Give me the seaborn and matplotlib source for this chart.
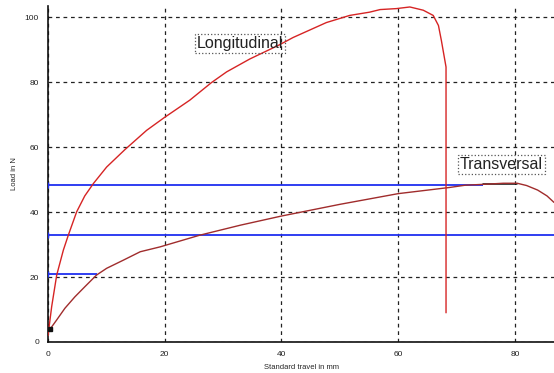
import matplotlib
matplotlib.use("Agg")
import matplotlib.pyplot as plt
from matplotlib.ticker import MultipleLocator
import seaborn as sns
import pandas as pd

# Tensile test curves: load versus standard travel
long_x = [0, 0.05, 0.63, 1.49, 2.63, 3.48, 4.91, 6.3, 7.77, 10.05, 13.2, 16.9,
          19.9, 24.3, 28.0, 30.6, 34.6, 39.5, 42, 47.7, 51.7, 55.1, 56.9,
          59.7, 62.0, 64.3, 66.0, 66.9, 67.4, 67.8, 68.2, 68.2]
long_y = [2, 2.7, 10.9, 20.6, 28.3, 32.9, 40.1, 45, 48.8, 53.9, 59.3, 65.2,
          69.1, 74.5, 79.9, 83.2, 87.2, 91.4, 93.8, 98.4, 100.6, 101.6, 102.4,
          102.7, 103.2, 102.2, 100.6, 97.5, 92.9, 88.8, 84.7, 9]

trans_x = [0, 0.05, 1.49, 2.9, 4.6, 6.3, 8.3, 10.05, 12.9, 15.8, 19.2, 26, 33,
           40, 50, 60, 68.8, 71.5, 75, 78, 80.4, 82, 83.9, 85.5, 86.7]
trans_y = [3, 3.2, 6.8, 10.4, 13.9, 17.0, 20.6, 22.7, 25.2, 27.8, 29.3, 32.9,
           36.0, 38.8, 42.4, 45.7, 47.6, 48.3, 48.6, 48.9, 48.9, 48.2, 46.8, 45,
           43]

# Horizontal cursor lines (load level, end of travel)
cursor_y = [48.5, 33, 21]
cursor_end = [74.6, 86.7, 8.4]
peak_segment_x = [74.6, 80.4]
peak_segment_y = [48.7, 48.7]

x_ticks = [0, 20, 40, 60, 80]
y_ticks = [0, 20, 40, 60, 80, 100]

sns.set_style("white")
plt.rcParams["font.family"] = ["Liberation Sans", "DejaVu Sans"]

fig = plt.figure(figsize=(5.54, 3.73), dpi=100)
ax = fig.add_axes([48 / 554, 1 - 342 / 373, 1 - 48 / 554, 336 / 373])

df_long = pd.DataFrame({"travel": long_x, "load": long_y})
df_trans = pd.DataFrame({"travel": trans_x, "load": trans_y})

ax.hlines(cursor_y, 0, cursor_end, colors="#1f2ff0", lw=1.3, zorder=2)
ax.plot([0] * len(cursor_y), cursor_y, ls="none", marker="|", ms=4,
        color="#1f2ff0", zorder=3)
ax.plot(peak_segment_x, peak_segment_y, color="#111111", lw=1.1, zorder=2)

sns.lineplot(data=df_trans, x="travel", y="load", sort=False, estimator=None,
             color="#a02c2c", lw=1.0, ax=ax, zorder=4)
sns.lineplot(data=df_long, x="travel", y="load", sort=False, estimator=None,
             color="#d62424", lw=1.0, ax=ax, zorder=5)
ax.plot([0.3], [4], marker="s", ms=2.5, color="#111111", zorder=6)

ax.set_xlim(0, 86.7)
ax.set_ylim(0, 103.5)
ax.set_xticks(x_ticks)
ax.set_yticks(y_ticks)
ax.xaxis.set_minor_locator(MultipleLocator(5))
ax.yaxis.set_minor_locator(MultipleLocator(10))
ax.tick_params(which="major", direction="inout", length=7, width=1,
               labelsize=6, colors="#222222", pad=3)
ax.tick_params(which="minor", direction="inout", length=5, width=1,
               colors="#222222")
ax.grid(True, which="major", ls=(0, (3, 3)), color="#222222", lw=0.9)
for side in ("top", "right"):
    ax.spines[side].set_visible(False)
for side in ("left", "bottom"):
    ax.spines[side].set_color("#111111")
    ax.spines[side].set_linewidth(1.2)

ax.set_xlabel("Standard travel in mm", fontsize=5.5, labelpad=4)
ax.set_ylabel("Load in N", fontsize=5.5, labelpad=5)

box = dict(boxstyle="square,pad=0.12", fc="none", ec="#555555", ls=":", lw=0.9)
ax.text(25.5, 92, "Longitudinal", fontsize=11.5, va="center", ha="left",
        color="#222222", bbox=box, zorder=7)
ax.text(70.6, 54.6, "Transversal", fontsize=11.5, va="center", ha="left",
        color="#222222", bbox=box, zorder=7, clip_on=False)

fig.savefig("out.png", dpi=100)
